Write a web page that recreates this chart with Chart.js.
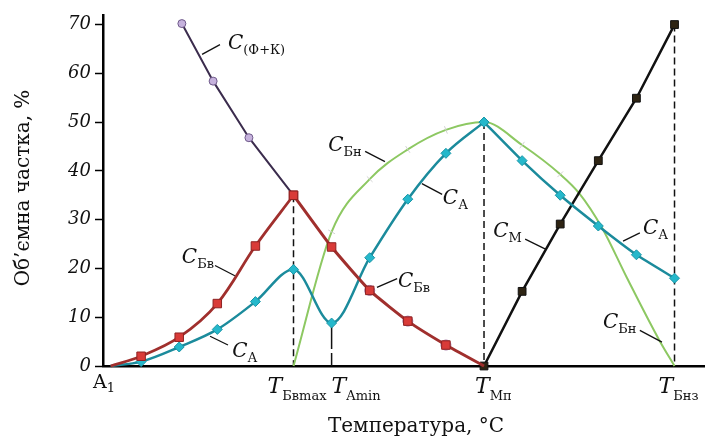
<!DOCTYPE html>
<html>
<head>
<meta charset="utf-8">
<script src="https://cdn.jsdelivr.net/npm/chart.js@4"></script>
<style>
  body { margin: 0; background: #fff; }
</style>
</head>
<body>
<canvas id="phaseChart" width="705" height="437"></canvas>
<script>
// ---------------------------
// Volume fractions vs temperature
// ---------------------------
const bvRiseT = [0.2, 1, 2, 3, 4, 5];
const bvRise = [0, 2.0, 5.9, 12.8, 24.6, 35];
const bvFallT = [5, 6, 7, 8, 9, 10];
const bvFall = [35, 24.4, 15.5, 9.2, 4.3, 0];

const aLeftT = [0.2, 1, 2, 3, 4, 5, 6, 7, 8, 9, 10];
const aLeft = [0, 0.9, 3.9, 7.5, 13.2, 19.8, 8.8, 22.2, 34.2, 43.6, 50];
const aRightT = [10, 11, 12, 13, 14, 15];
const aRight = [50, 42.1, 35, 28.7, 22.8, 18.0];

const bnT = [5, 6, 7, 8, 9, 10, 11, 12, 12.5, 13.1, 13.75, 14.6, 15];
const bn = [0, 27.5, 38.3, 44.4, 48.4, 50, 45.3, 39.3, 35.4, 28.3, 18.1, 5.3, 0];

const mT = [10, 11, 12, 13, 14, 15];
const m = [0, 15.3, 29.1, 42.1, 54.9, 70];

const fkT = [2.07, 2.89, 3.83, 5];
const fk = [70.2, 58.4, 46.8, 35];
const fkTailT = [7, 8, 9];
const fkTail = [15.5, 9.2, 4.3];

// critical temperatures and the level each dashed guide reaches
const guideT = [5, 6, 10, 15];
const guideTop = [35, 8.8, 50, 70];

// x axis labels: main letter + subscript
const xTickT = [0, 5, 6, 10, 15];
const xTickMain = ["A", "T", "T", "T", "T"];
const xTickSub = ["1", "Бвmax", "Amin", "Мп", "Бнз"];

const yTicks = [0, 10, 20, 30, 40, 50, 60, 70];

// curve captions: subscript, text anchor, leader stroke (all in data units)
const captions = [
    { sub: "(Ф+К)", at: [3.28, 64.9], lead: [[2.60, 63.9], [3.07, 65.9]] },
    { sub: "Бв",    at: [2.07, 21.2], lead: [[2.94, 20.6], [3.46, 18.5]] },
    { sub: "А",     at: [3.39, 1.8],  lead: [[2.81, 6.1],  [3.28, 4.3]] },
    { sub: "Бв",    at: [7.74, 16.1], lead: [[7.19, 16.1], [7.72, 17.9]] },
    { sub: "Бн",    at: [5.91, 44.0], lead: [[6.88, 44.0], [7.40, 41.9]] },
    { sub: "А",     at: [8.92, 33.2], lead: [[8.37, 37.4], [8.90, 35.2]] },
    { sub: "М",     at: [10.24, 26.5], lead: [[11.08, 26.0], [11.60, 24.0]] },
    { sub: "А",     at: [14.17, 27.1], lead: [[13.65, 25.6], [14.09, 27.3]] },
    { sub: "Бн",    at: [13.12, 7.7], lead: [[14.09, 7.3], [14.67, 4.9]] }
];

const SERIF = '"DejaVu Serif", "Liberation Serif", serif';

const pts = (xs, ys) => xs.map((t, i) => ({ x: t, y: ys[i] }));

// ---------------------------
// Datasets
// ---------------------------
const red = { line: "#a02f2d", fill: "#d93b38", edge: "#8e2222" };
const teal = { line: "#1b8b9c", fill: "#25b8cb", edge: "#1a95a6" };

function guide(i) {
    return {
        data: [{ x: guideT[i], y: guideTop[i] }, { x: guideT[i], y: 0 }],
        borderColor: "#111",
        borderWidth: 1.5,
        borderDash: i === 1 ? [26, 4] : [7, 4],
        pointRadius: 0,
        order: 10
    };
}

const datasets = [
    guide(0), guide(1), guide(2), guide(3),
    {
        data: pts(bnT, bn),
        borderColor: "#8dc862",
        borderWidth: 2,
        cubicInterpolationMode: "monotone",
        pointStyle: "line",
        pointRadius: [0, 4, 4, 4, 4, 0, 4, 4, 0, 0, 0, 0, 0],
        pointRotation: [0, 30, 44, 57, 69, 0, 126, 135, 0, 0, 0, 0, 0],
        pointBorderColor: "#d2d2d2",
        pointBorderWidth: 1,
        order: 6
    },
    {
        data: pts(fkT, fk),
        borderColor: "#3b2c4d",
        borderWidth: 2,
        tension: 0,
        pointStyle: "circle",
        pointRadius: [4, 4, 4, 0],
        pointBackgroundColor: "#c6b2dd",
        pointBorderColor: "#6f5a8a",
        pointBorderWidth: 1,
        order: 5
    },
    {
        data: pts(fkTailT, fkTail),
        showLine: false,
        pointStyle: "circle",
        pointRadius: 5,
        pointBackgroundColor: "#d9a9cf",
        pointBorderColor: "#a77aa5",
        pointBorderWidth: 1,
        order: 2.5
    },
    {
        data: pts(mT, m),
        borderColor: "#111",
        borderWidth: 2.5,
        tension: 0,
        pointStyle: "rect",
        pointRadius: 5.5,
        pointBackgroundColor: "#2e2413",
        pointBorderColor: "#111",
        pointBorderWidth: 1,
        order: 4
    },
    {
        data: pts(aLeftT, aLeft),
        borderColor: teal.line,
        borderWidth: 2.5,
        cubicInterpolationMode: "monotone",
        pointStyle: "rectRot",
        pointRadius: [0, 5, 5, 5, 5, 5, 5, 5, 5, 5, 5],
        pointBackgroundColor: teal.fill,
        pointBorderColor: teal.edge,
        pointBorderWidth: 1,
        order: 3
    },
    {
        data: pts(aRightT, aRight),
        borderColor: teal.line,
        borderWidth: 2.5,
        tension: 0.15,
        pointStyle: "rectRot",
        pointRadius: 5,
        pointBackgroundColor: teal.fill,
        pointBorderColor: teal.edge,
        pointBorderWidth: 1,
        order: 3
    },
    {
        data: pts(bvRiseT, bvRise),
        borderColor: red.line,
        borderWidth: 2.8,
        tension: 0.35,
        pointStyle: "rect",
        pointRadius: [0, 6, 6, 6, 6, 6],
        pointBackgroundColor: red.fill,
        pointBorderColor: red.edge,
        pointBorderWidth: 1,
        order: 2
    },
    {
        data: pts(bvFallT, bvFall),
        borderColor: red.line,
        borderWidth: 3,
        tension: 0.15,
        pointStyle: "rect",
        pointRadius: [6, 6, 6, 6, 6, 0],
        pointBackgroundColor: red.fill,
        pointBorderColor: red.edge,
        pointBorderWidth: 1,
        order: 2
    }
].map(d => Object.assign({ clip: false, fill: false }, d));

// ---------------------------
// Text: captions, axis labels, titles
// ---------------------------
function withSub(ctx, main, sub, px, py, mainFont, subFont, dy, gap) {
    ctx.font = mainFont;
    ctx.fillText(main, px, py);
    const w = ctx.measureText(main).width;
    ctx.font = subFont;
    ctx.fillText(sub, px + w + (gap || 0), py + dy);
}

const annotate = {
    id: "annotate",
    afterDraw(chart) {
        const { ctx } = chart;
        const x = chart.scales.x, y = chart.scales.y;
        ctx.save();
        ctx.fillStyle = "#111";
        ctx.strokeStyle = "#111";
        ctx.textAlign = "left";
        ctx.textBaseline = "alphabetic";

        captions.forEach(c => {
            ctx.lineWidth = 1.3;
            ctx.beginPath();
            ctx.moveTo(x.getPixelForValue(c.lead[0][0]), y.getPixelForValue(c.lead[0][1]));
            ctx.lineTo(x.getPixelForValue(c.lead[1][0]), y.getPixelForValue(c.lead[1][1]));
            ctx.stroke();
            withSub(ctx, "C", c.sub, x.getPixelForValue(c.at[0]), y.getPixelForValue(c.at[1]),
                `italic 20px ${SERIF}`, `13px ${SERIF}`, 5, 0);
        });

        // x tick labels sit under the axis, left edges shifted per label
        const shift = [-10, -26, 0, -9, -16];
        xTickT.forEach((t, i) => {
            const px = x.getPixelForValue(t) + shift[i];
            if (xTickMain[i] === "A") {
                withSub(ctx, "A", xTickSub[i], px, 388, `19px ${SERIF}`, `13px ${SERIF}`, 4, 0);
            } else {
                withSub(ctx, "T", xTickSub[i], px, 393, `italic 22px ${SERIF}`, `13px ${SERIF}`, 7, 0);
            }
        });

        ctx.font = `20px ${SERIF}`;
        ctx.textAlign = "center";
        ctx.fillText("Температура, °С", 416, 432);

        ctx.translate(29, 188);
        ctx.rotate(-Math.PI / 2);
        ctx.fillText("Об’ємна частка, %", 0, 0);
        ctx.restore();
    }
};

new Chart(document.getElementById("phaseChart").getContext("2d"), {
    type: "line",
    data: { datasets },
    options: {
        responsive: false,
        animation: false,
        events: [],
        layout: { autoPadding: false, padding: { top: 12, right: 0, left: 0, bottom: 0 } },
        plugins: { legend: { display: false }, tooltip: { enabled: false } },
        scales: {
            x: {
                type: "linear",
                min: 0,
                max: 15.8,
                ticks: { display: false },
                grid: { drawOnChartArea: false, drawTicks: false },
                border: { color: "#000", width: 2.5 },
                afterFit: s => { s.height = 71; }
            },
            y: {
                type: "linear",
                min: 0,
                max: 72,
                afterBuildTicks: s => { s.ticks = yTicks.map(v => ({ value: v })); },
                ticks: {
                    padding: 4,
                    color: "#111",
                    font: { family: SERIF, size: 18, style: "italic" }
                },
                grid: { drawOnChartArea: false, drawTicks: true, tickLength: 8, tickColor: "#000", tickWidth: 1.5 },
                border: { color: "#000", width: 2.5 },
                afterFit: s => { s.width = 103; }
            }
        }
    },
    plugins: [annotate]
});
</script>
</body>
</html>
